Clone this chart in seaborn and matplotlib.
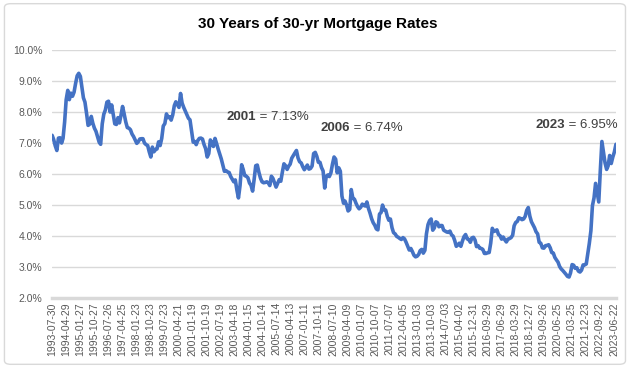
import numpy as np
import pandas as pd
import seaborn as sns
import matplotlib.pyplot as plt
from matplotlib.patches import FancyBboxPatch
from matplotlib.ticker import FuncFormatter

# monthly 30-yr fixed rate (%), Jul 1993 .. Jul 2023
rates = [
    7.25, 7.11, 6.91, 6.76, 7.16, 7.17,                                # 1993
    7.00, 7.15, 7.68, 8.40, 8.70, 8.40, 8.61, 8.51, 8.64, 8.93, 9.17, 9.25,  # 1994
    9.15, 8.83, 8.46, 8.32, 7.96, 7.57, 7.61, 7.86, 7.64, 7.48, 7.38, 7.20,  # 1995
    7.03, 6.96, 7.62, 7.93, 8.07, 8.32, 8.35, 8.00, 8.23, 7.92, 7.62, 7.60,  # 1996
    7.82, 7.65, 7.90, 8.18, 7.94, 7.69, 7.50, 7.48, 7.43, 7.29, 7.21, 7.10,  # 1997
    6.99, 7.04, 7.13, 7.14, 7.14, 7.00, 6.95, 6.92, 6.72, 6.55, 6.87, 6.72,  # 1998
    6.79, 6.81, 7.04, 6.92, 7.15, 7.55, 7.63, 7.94, 7.82, 7.85, 7.74, 7.91,  # 1999
    8.21, 8.33, 8.24, 8.15, 8.60, 8.29, 8.15, 8.03, 7.91, 7.80, 7.75, 7.38,  # 2000
    7.03, 7.05, 6.95, 7.08, 7.15, 7.16, 7.13, 6.95, 6.82, 6.55, 6.66, 7.10,  # 2001
    7.00, 6.89, 7.15, 6.99, 6.81, 6.65, 6.49, 6.29, 6.09, 6.11, 6.07, 6.05,  # 2002
    5.92, 5.84, 5.75, 5.81, 5.48, 5.23, 5.63, 6.30, 6.15, 5.95, 5.93, 5.88,  # 2003
    5.71, 5.64, 5.45, 5.83, 6.27, 6.29, 6.06, 5.87, 5.75, 5.72, 5.73, 5.75,  # 2004
    5.71, 5.63, 5.93, 5.86, 5.72, 5.58, 5.70, 5.82, 5.77, 6.07, 6.33, 6.27,  # 2005
    6.15, 6.25, 6.32, 6.51, 6.60, 6.68, 6.76, 6.52, 6.40, 6.36, 6.24, 6.14,  # 2006
    6.22, 6.29, 6.16, 6.18, 6.26, 6.66, 6.70, 6.57, 6.38, 6.38, 6.21, 6.10,  # 2007
    5.55, 5.92, 5.97, 5.92, 6.04, 6.32, 6.55, 6.48, 6.04, 6.20, 6.09, 5.29,  # 2008
    5.06, 5.13, 5.00, 4.81, 4.86, 5.50, 5.22, 5.19, 5.06, 4.95, 4.88, 4.93,  # 2009
    5.03, 4.99, 4.97, 5.10, 4.89, 4.74, 4.56, 4.43, 4.35, 4.23, 4.20, 4.71,  # 2010
    4.76, 5.00, 4.84, 4.84, 4.64, 4.51, 4.55, 4.27, 4.11, 4.07, 3.99, 3.96,  # 2011
    3.92, 3.89, 3.95, 3.91, 3.80, 3.68, 3.55, 3.60, 3.50, 3.38, 3.33, 3.35,  # 2012
    3.41, 3.53, 3.57, 3.45, 3.54, 4.07, 4.37, 4.50, 4.55, 4.19, 4.26, 4.46,  # 2013
    4.43, 4.30, 4.34, 4.34, 4.19, 4.16, 4.13, 4.12, 4.16, 4.04, 4.00, 3.86,  # 2014
    3.67, 3.71, 3.77, 3.67, 3.84, 3.98, 4.05, 3.91, 3.89, 3.80, 3.94, 3.96,  # 2015
    3.87, 3.66, 3.69, 3.61, 3.60, 3.57, 3.44, 3.44, 3.46, 3.47, 3.77, 4.25,  # 2016
    4.15, 4.17, 4.20, 4.05, 4.01, 3.90, 3.97, 3.88, 3.81, 3.90, 3.92, 3.95,  # 2017
    4.03, 4.33, 4.44, 4.47, 4.59, 4.57, 4.53, 4.55, 4.63, 4.83, 4.92, 4.64,  # 2018
    4.46, 4.37, 4.27, 4.14, 4.07, 3.80, 3.77, 3.62, 3.61, 3.69, 3.70, 3.72,  # 2019
    3.62, 3.47, 3.45, 3.31, 3.23, 3.16, 3.02, 2.94, 2.89, 2.83, 2.77, 2.70,  # 2020
    2.68, 2.81, 3.08, 3.06, 2.96, 2.98, 2.87, 2.84, 2.90, 3.07, 3.07, 3.10,  # 2021
    3.45, 3.76, 4.17, 4.98, 5.23, 5.70, 5.41, 5.10, 6.11, 7.05, 6.70, 6.36,  # 2022
    6.15, 6.26, 6.60, 6.34, 6.55, 6.71, 6.96,                          # 2023
]

tick_labels = [
    '1993-07-30', '1994-04-29', '1995-01-27', '1995-10-27', '1996-07-26',
    '1997-04-25', '1998-01-23', '1998-10-23', '1999-07-23', '2000-04-21',
    '2001-01-19', '2001-10-19', '2002-07-19', '2003-04-18', '2004-01-15',
    '2004-10-14', '2005-07-14', '2006-04-13', '2007-01-11', '2007-10-11',
    '2008-07-10', '2009-04-09', '2010-01-07', '2010-10-07', '2011-07-07',
    '2012-04-05', '2013-01-03', '2013-10-03', '2014-07-03', '2015-04-02',
    '2015-12-31', '2016-09-29', '2017-06-29', '2018-03-29', '2018-12-27',
    '2019-09-26', '2020-06-25', '2021-03-25', '2021-12-23', '2022-09-22',
    '2023-06-22',
]

# callouts: bold year, rest of text, anchor date, height
note_years = ['2001', '2006', '2023']
note_texts = [' = 7.13%', ' = 6.74%', ' = 6.95%']
note_dates = ['2002-11-01', '2007-11-01', '2019-04-15']
note_y = [7.84, 7.48, 7.58]

df = pd.DataFrame({
    'date': pd.date_range('1993-07-31', periods=len(rates), freq='ME'),
    'rate': rates,
})

sns.set_style('white')
plt.rcParams['font.family'] = ['Liberation Sans', 'DejaVu Sans']

fig = plt.figure(figsize=(6.35, 3.68), dpi=100)
ax = fig.add_axes([0.082, 0.19, 0.888, 0.674])

# outer chart frame
fig.patches.append(FancyBboxPatch((0.007, 0.01), 0.978, 0.98, boxstyle='round,pad=0,rounding_size=0.01',
                                  transform=fig.transFigure, fc='none', ec='#D9D9D9', lw=1))

sns.lineplot(data=df, x='date', y='rate', ax=ax, color='#4472C4', linewidth=2.6)

ax.set_ylim(2, 10)
ax.set_yticks(np.arange(2, 10.5, 1))
ax.yaxis.set_major_formatter(FuncFormatter(lambda v, p: f'{v:.1f}%'))
ax.set_xlim(df['date'].iloc[0], df['date'].iloc[-1])
ax.set_xticks(pd.to_datetime(tick_labels))
ax.set_xticklabels(tick_labels, rotation=90)
ax.set_xlabel('')
ax.set_ylabel('')

ax.grid(axis='y', color='#D9D9D9', lw=1)
ax.grid(axis='x', visible=False)
for s in ['top', 'right', 'left']:
    ax.spines[s].set_visible(False)
ax.spines['bottom'].set_color('#D9D9D9')
ax.spines['bottom'].set_linewidth(2.5)
ax.tick_params(axis='both', length=0, labelsize=7.5, labelcolor='#595959')
ax.tick_params(axis='x', pad=3)
ax.tick_params(axis='y', pad=7)

fig.text(0.5, 1 - 24 / 368, '30 Years of 30-yr Mortgage Rates', ha='center', va='center',
         fontsize=11, fontweight='bold', color='black')

for yr, txt, d, y in zip(note_years, note_texts, note_dates, note_y):
    t = ax.text(pd.Timestamp(d), y, yr, fontsize=9.5, fontweight='bold', color='#404040',
                ha='left', va='center')
    ax.annotate(txt, xy=(1, 0.5), xycoords=t, fontsize=9.5, color='#404040',
                ha='left', va='center')

fig.savefig('out.png', dpi=100)
